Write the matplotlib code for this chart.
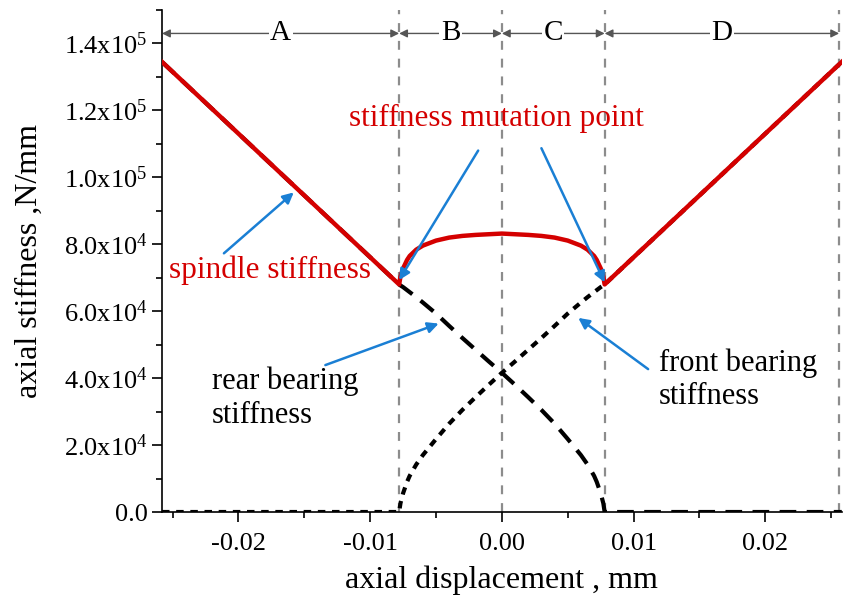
import matplotlib
matplotlib.use("Agg")
import matplotlib.pyplot as plt
from matplotlib.ticker import MultipleLocator, FuncFormatter

plt.rcParams['font.family'] = ['Liberation Serif', 'DejaVu Serif']
plt.rcParams['mathtext.fontset'] = 'custom'
plt.rcParams['mathtext.rm'] = 'Liberation Serif'

# axial displacement (mm) and stiffness (N/mm)
x_mid = [-0.0078, -0.0077, -0.0075, -0.0072, -0.007, -0.0065, -0.006, -0.005, -0.004, -0.003,
         -0.002, -0.001, 0.0, 0.001, 0.002, 0.003, 0.004, 0.005, 0.006, 0.0065,
         0.007, 0.0072, 0.0075, 0.0077, 0.0078]
rear_mid = [68000, 67700, 67200, 66300, 65700, 64200, 62600, 59300, 55600, 52000,
            48500, 45000, 41600, 38000, 34300, 30500, 26400, 21800, 17000, 14200,
            10800, 9000, 5600, 2600, 0]
front_mid = [0, 2600, 5600, 9000, 10800, 14200, 17000, 21800, 26400, 30500,
             34300, 38000, 41600, 45000, 48500, 52000, 55600, 59300, 62600, 64200,
             65700, 66300, 67200, 67700, 68000]
spindle_mid = [68000, 70300, 72800, 75300, 76500, 78400, 79600, 81100, 82000, 82500,
               82800, 83000, 83200, 83000, 82800, 82500, 82000, 81100, 79600, 78400,
               76500, 75300, 72800, 70300, 68000]

x_edge = [-0.0258, 0.0258]
k_edge = [134500, 134500]

x_all = [x_edge[0]] + x_mid + [x_edge[1]]
front = [0] + front_mid + [k_edge[1]]
rear = [k_edge[0]] + rear_mid + [0]
spindle = [k_edge[0]] + spindle_mid + [k_edge[1]]

bounds = [-0.0258, -0.0078, 0.0, 0.0078, 0.0256]
regions = ['A', 'B', 'C', 'D']

fig = plt.figure(figsize=(8.46, 6.07), dpi=100)
ax = fig.add_axes([0.1915, 0.1565, 0.8035, 0.827])

for xb in bounds[1:]:
    ax.axvline(xb, color='#8c8c8c', lw=1.6, ls=(0, (4, 4)), zorder=1)

ax.plot(x_all, rear, color='black', lw=3, ls=(0, (4, 2.5)), zorder=2)
ax.plot(x_all, front, color='black', lw=3, ls=(0, (1.8, 1.6)), zorder=2)
ax.plot(x_all, spindle, color='#d40000', lw=3.2, zorder=3)

# region markers A-D
ytop = 143000
for i, lab in enumerate(regions):
    x0, x1 = bounds[i], bounds[i + 1]
    ax.annotate('', xy=(x0, ytop), xytext=(x1, ytop),
                arrowprops=dict(arrowstyle='<|-|>', color='#555555', lw=1,
                                mutation_scale=12, shrinkA=0, shrinkB=0))
    ax.text((x0 + x1) / 2, ytop, lab, ha='center', va='center', fontsize=21,
            bbox=dict(facecolor='white', edgecolor='none', pad=1))

blue = '#1a7fd4'
arrow = dict(arrowstyle='-|>', color=blue, lw=1.8, mutation_scale=16, shrinkA=0, shrinkB=0)

ax.text(-0.0004, 117500, 'stiffness mutation point', color='#d40000', fontsize=22.5,
        ha='center', va='center')
ax.annotate('', xy=(-0.0078, 69300), xytext=(-0.0018, 108000), arrowprops=arrow)
ax.annotate('', xy=(0.0078, 68600), xytext=(0.0030, 108700), arrowprops=arrow)

ax.text(-0.0253, 72200, 'spindle stiffness', color='#d40000', fontsize=22.5,
        ha='left', va='center')
ax.annotate('', xy=(-0.0158, 95500), xytext=(-0.0211, 77300), arrowprops=arrow)

ax.text(-0.0220, 34000, 'rear bearing\nstiffness', color='black', fontsize=22,
        ha='left', va='center', linespacing=1.2)
ax.annotate('', xy=(-0.0048, 56300), xytext=(-0.0134, 43900), arrowprops=arrow)

ax.text(0.0119, 39500, 'front bearing\nstiffness', color='black', fontsize=22,
        ha='left', va='center', linespacing=1.2)
ax.annotate('', xy=(0.0058, 58000), xytext=(0.0111, 42700), arrowprops=arrow)

ax.set_xlim(-0.0258, 0.0258)
ax.set_ylim(0, 150000)
ax.xaxis.set_major_locator(MultipleLocator(0.01))
ax.xaxis.set_minor_locator(MultipleLocator(0.005))
ax.yaxis.set_major_locator(MultipleLocator(20000))
ax.yaxis.set_minor_locator(MultipleLocator(10000))
ax.xaxis.set_major_formatter(FuncFormatter(lambda v, p: '%.2f' % v))


def yfmt(v, p):
    if v == 0:
        return '0.0'
    e = 5 if v >= 100000 else 4
    return r'$\mathregular{%.1fx10^{%d}}$' % (v / 10 ** e, e)


ax.yaxis.set_major_formatter(FuncFormatter(yfmt))
ax.tick_params(axis='both', which='major', length=7, width=1.2, labelsize=19, direction='out')
ax.tick_params(axis='x', which='major', pad=8)
ax.tick_params(axis='both', which='minor', length=4, width=1.2, direction='out')

for s in ['top', 'right']:
    ax.spines[s].set_visible(False)
for s in ['left', 'bottom']:
    ax.spines[s].set_linewidth(1.2)

ax.set_xlabel('axial displacement , mm', fontsize=23, labelpad=8)
ax.set_ylabel('axial stiffness ,N/mm', fontsize=23)
ax.yaxis.set_label_coords(-0.174, 0.5)

fig.savefig('out.png', dpi=100)
